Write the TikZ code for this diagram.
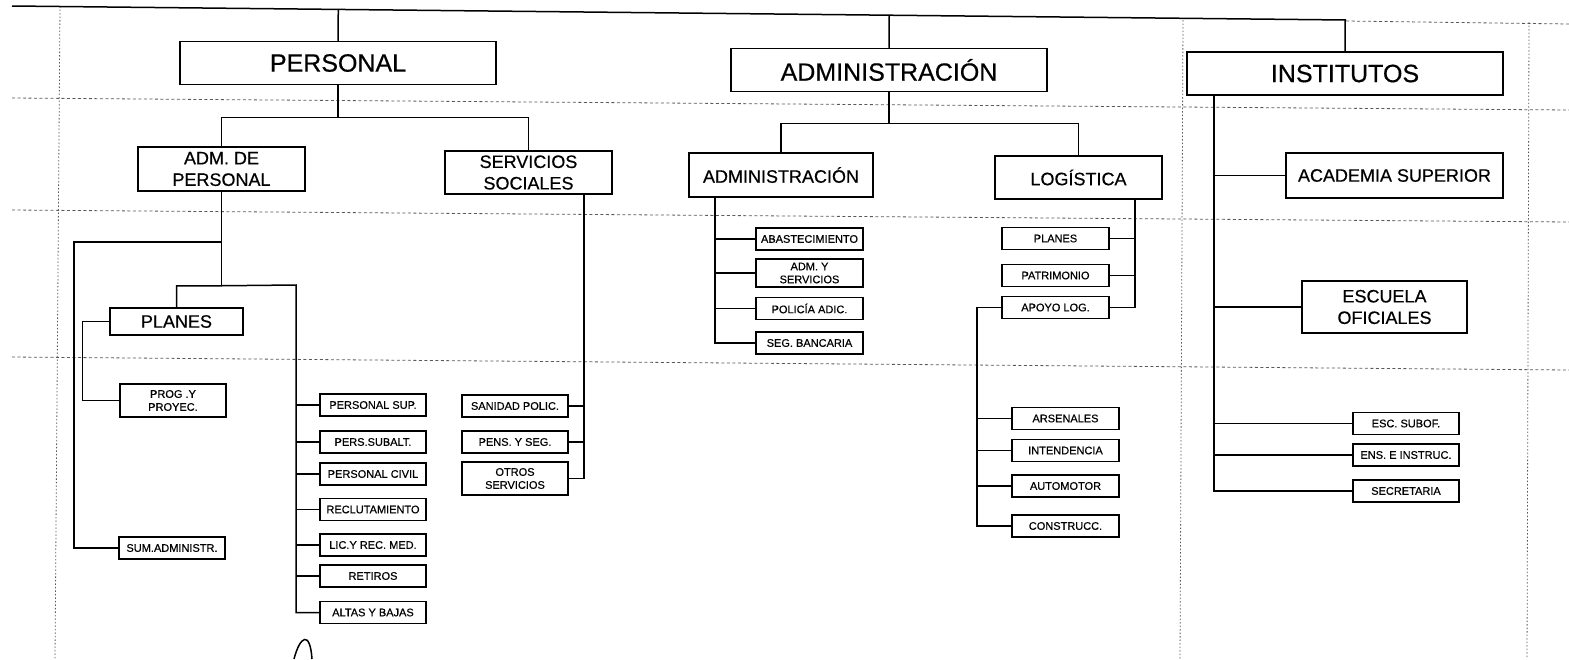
\documentclass[tikz,border=0pt]{standalone}
\usepackage{fontspec}
\setmainfont{Liberation Sans}[BoldFont=Liberation Sans, BoldFeatures={FakeBold=0.5}]
\usetikzlibrary{calc}

\begin{document}
\begin{tikzpicture}[x=1pt, y=-1pt,
    topbox/.style={draw, line width=1.5pt, minimum width=316pt, minimum height=43pt, inner sep=0pt, font=\fontsize{25}{30}\selectfont\bfseries},
    midbox/.style={draw, line width=1.5pt, minimum height=44pt, inner sep=0pt, align=center, font=\fontsize{18}{21.5}\selectfont\bfseries},
    leafbox/.style={draw, line width=1.3pt, minimum width=106pt, minimum height=22pt, inner sep=0pt, align=center, font=\fontsize{11}{13}\selectfont\bfseries},
    link/.style={line width=1.5pt},
    gridh/.style={black!65, line width=0.8pt, dash pattern=on 3pt off 2.5pt},
    gridv/.style={black!65, line width=0.8pt, dash pattern=on 1.5pt off 2pt}]

    \useasboundingbox (0,0) rectangle (1569,659);

    \draw[gridh] (12,98) -- (1569,110);
    \draw[gridh] (12,210) -- (1569,222);
    \draw[gridh] (12,357) -- (1569,370);
    \draw[gridh] (1346,21) -- (1569,24);
    \draw[gridv] (60,6) -- (55,659);
    \draw[gridv] (1183,20) -- (1180,659);
    \draw[gridv] (1529,22) -- (1527,659);

    \coordinate (topL) at (12,6);
    \coordinate (topR) at (1346,20);
    \draw[link] (topL) -- (topR);

    \node [topbox] (personal) at (338,63) {PERSONAL};
    \node [topbox] (admon) at (889,70) {ADMINISTRACIÓN};
    \node [topbox] (institutos) at (1345,73.5) {INSTITUTOS};

    \node [midbox, minimum width=167pt] (admper) at (221.5,169) {ADM. DE\\PERSONAL};
    \node [midbox, minimum width=167pt, minimum height=43pt] (servsoc) at (528.5,172.5) {SERVICIOS\\SOCIALES};
    \node [midbox, minimum width=184pt] (administ) at (781,175) {ADMINISTRACIÓN};
    \node [midbox, minimum width=167pt, minimum height=43pt] (logist) at (1078.5,177.5) {LOGÍSTICA};
    \node [midbox, minimum width=217pt, minimum height=45pt] (academia) at (1394.5,175.5) {ACADEMIA SUPERIOR};
    \node [midbox, minimum width=165pt, minimum height=52pt] (escuela) at (1384.5,307) {ESCUELA\\OFICIALES};
    \node [midbox, minimum width=133pt, minimum height=27pt] (planes) at (176.5,321.5) {PLANES};

    \node [leafbox, minimum height=33pt] (prog) at (173,400.5) {PROG .Y\\PROYEC.};
    \node [leafbox] (sumadm) at (172,548) {SUM.ADMINISTR.};

    \node [leafbox] (persup) at (373,405) {PERSONAL SUP.};
    \node [leafbox] (persub) at (373,442) {PERS.SUBALT.};
    \node [leafbox] (perciv) at (373,474) {PERSONAL CIVIL};
    \node [leafbox] (reclut) at (373,509.5) {RECLUTAMIENTO};
    \node [leafbox] (licrec) at (373,545) {LIC.Y REC. MED.};
    \node [leafbox] (retiros) at (373,576) {RETIROS};
    \node [leafbox] (altas) at (373,612.5) {ALTAS Y BAJAS};

    \node [leafbox] (sanidad) at (515,406) {SANIDAD POLIC.};
    \node [leafbox] (pens) at (515,442) {PENS. Y SEG.};
    \node [leafbox, minimum height=33pt] (otros) at (515,478.5) {OTROS\\SERVICIOS};

    \node [leafbox, minimum width=107pt] (abast) at (809.5,239) {ABASTECIMIENTO};
    \node [leafbox, minimum width=107pt, minimum height=28pt] (admserv) at (809.5,273) {ADM. Y\\SERVICIOS};
    \node [leafbox, minimum width=107pt] (policia) at (809.5,308.5) {POLICÍA ADIC.};
    \node [leafbox, minimum width=107pt] (segban) at (809.5,343) {SEG. BANCARIA};

    \node [leafbox, minimum width=107pt] (planesl) at (1055.5,238.5) {PLANES};
    \node [leafbox, minimum width=107pt] (patrim) at (1055.5,275.5) {PATRIMONIO};
    \node [leafbox, minimum width=107pt] (apoyo) at (1055.5,307.5) {APOYO LOG.};

    \node [leafbox, minimum width=107pt] (arsen) at (1065.5,418.5) {ARSENALES};
    \node [leafbox, minimum width=107pt] (intend) at (1065.5,450.5) {INTENDENCIA};
    \node [leafbox, minimum width=107pt] (autom) at (1065.5,486) {AUTOMOTOR};
    \node [leafbox, minimum width=107pt] (constr) at (1065.5,526) {CONSTRUCC.};

    \node [leafbox] (escsub) at (1406,423.5) {ESC. SUBOF.};
    \node [leafbox] (ensins) at (1406,455) {ENS. E INSTRUC.};
    \node [leafbox] (secret) at (1406,491) {SECRETARIA};

    \foreach \n in {personal,admon,institutos}
        \draw[link] (\n.north) -- ($(topL)!(\n.north)!(topR)$);

    \draw[link] (personal.south) -- ++(0,32) coordinate (pbus);
    \draw[link] (admper.north) |- (pbus) -| (servsoc.north);
    \draw[link] (admon.south) -- ++(0,31) coordinate (abus);
    \draw[link] (administ.north) |- (abus) -| (logist.north);

    \draw[link] (admper.south) -- ++(0,94) coordinate (apbus);
    \coordinate (pcol) at (296,285);
    \draw[link] (planes.north) |- (apbus) -- (pcol) |- (altas.west);
    \foreach \n in {persup,persub,perciv,reclut,licrec,retiros}
        \draw[link] (\n.west) -- (\n.west -| pcol);
    \coordinate (sumturn) at (74,242);
    \draw[link] (admper.south |- sumturn) -- (sumturn) |- (sumadm.west);
    \draw[link] (planes.west) -- ++(-27,0) |- (prog.west);

    \coordinate (stop) at (584,194);
    \draw[link] (stop) |- (otros.east);
    \foreach \n in {sanidad,pens}
        \draw[link] (\n.east) -- (\n.east -| stop);

    \coordinate (atop) at (715,197);
    \draw[link] (atop) |- (segban.west);
    \foreach \n in {abast,admserv,policia}
        \draw[link] (\n.west) -- (\n.west -| atop);

    \coordinate (ltop) at (1135,199);
    \draw[link] (ltop) |- (apoyo.east);
    \foreach \n in {planesl,patrim}
        \draw[link] (\n.east) -- (\n.east -| ltop);
    \coordinate (ltrunk) at (977,307.5);
    \draw[link] (apoyo.west) -- (ltrunk) |- (constr.west);
    \foreach \n in {arsen,intend,autom}
        \draw[link] (\n.west) -- (\n.west -| ltrunk);

    \coordinate (itop) at (1214,95);
    \draw[link] (itop) |- (secret.west);
    \foreach \n in {academia,escuela,escsub,ensins}
        \draw[link] (\n.west) -- (\n.west -| itop);

    \draw[line width=1.5pt] (294,659) .. controls (300,636) and (310,630) .. (312,659);

\end{tikzpicture}
\end{document}
